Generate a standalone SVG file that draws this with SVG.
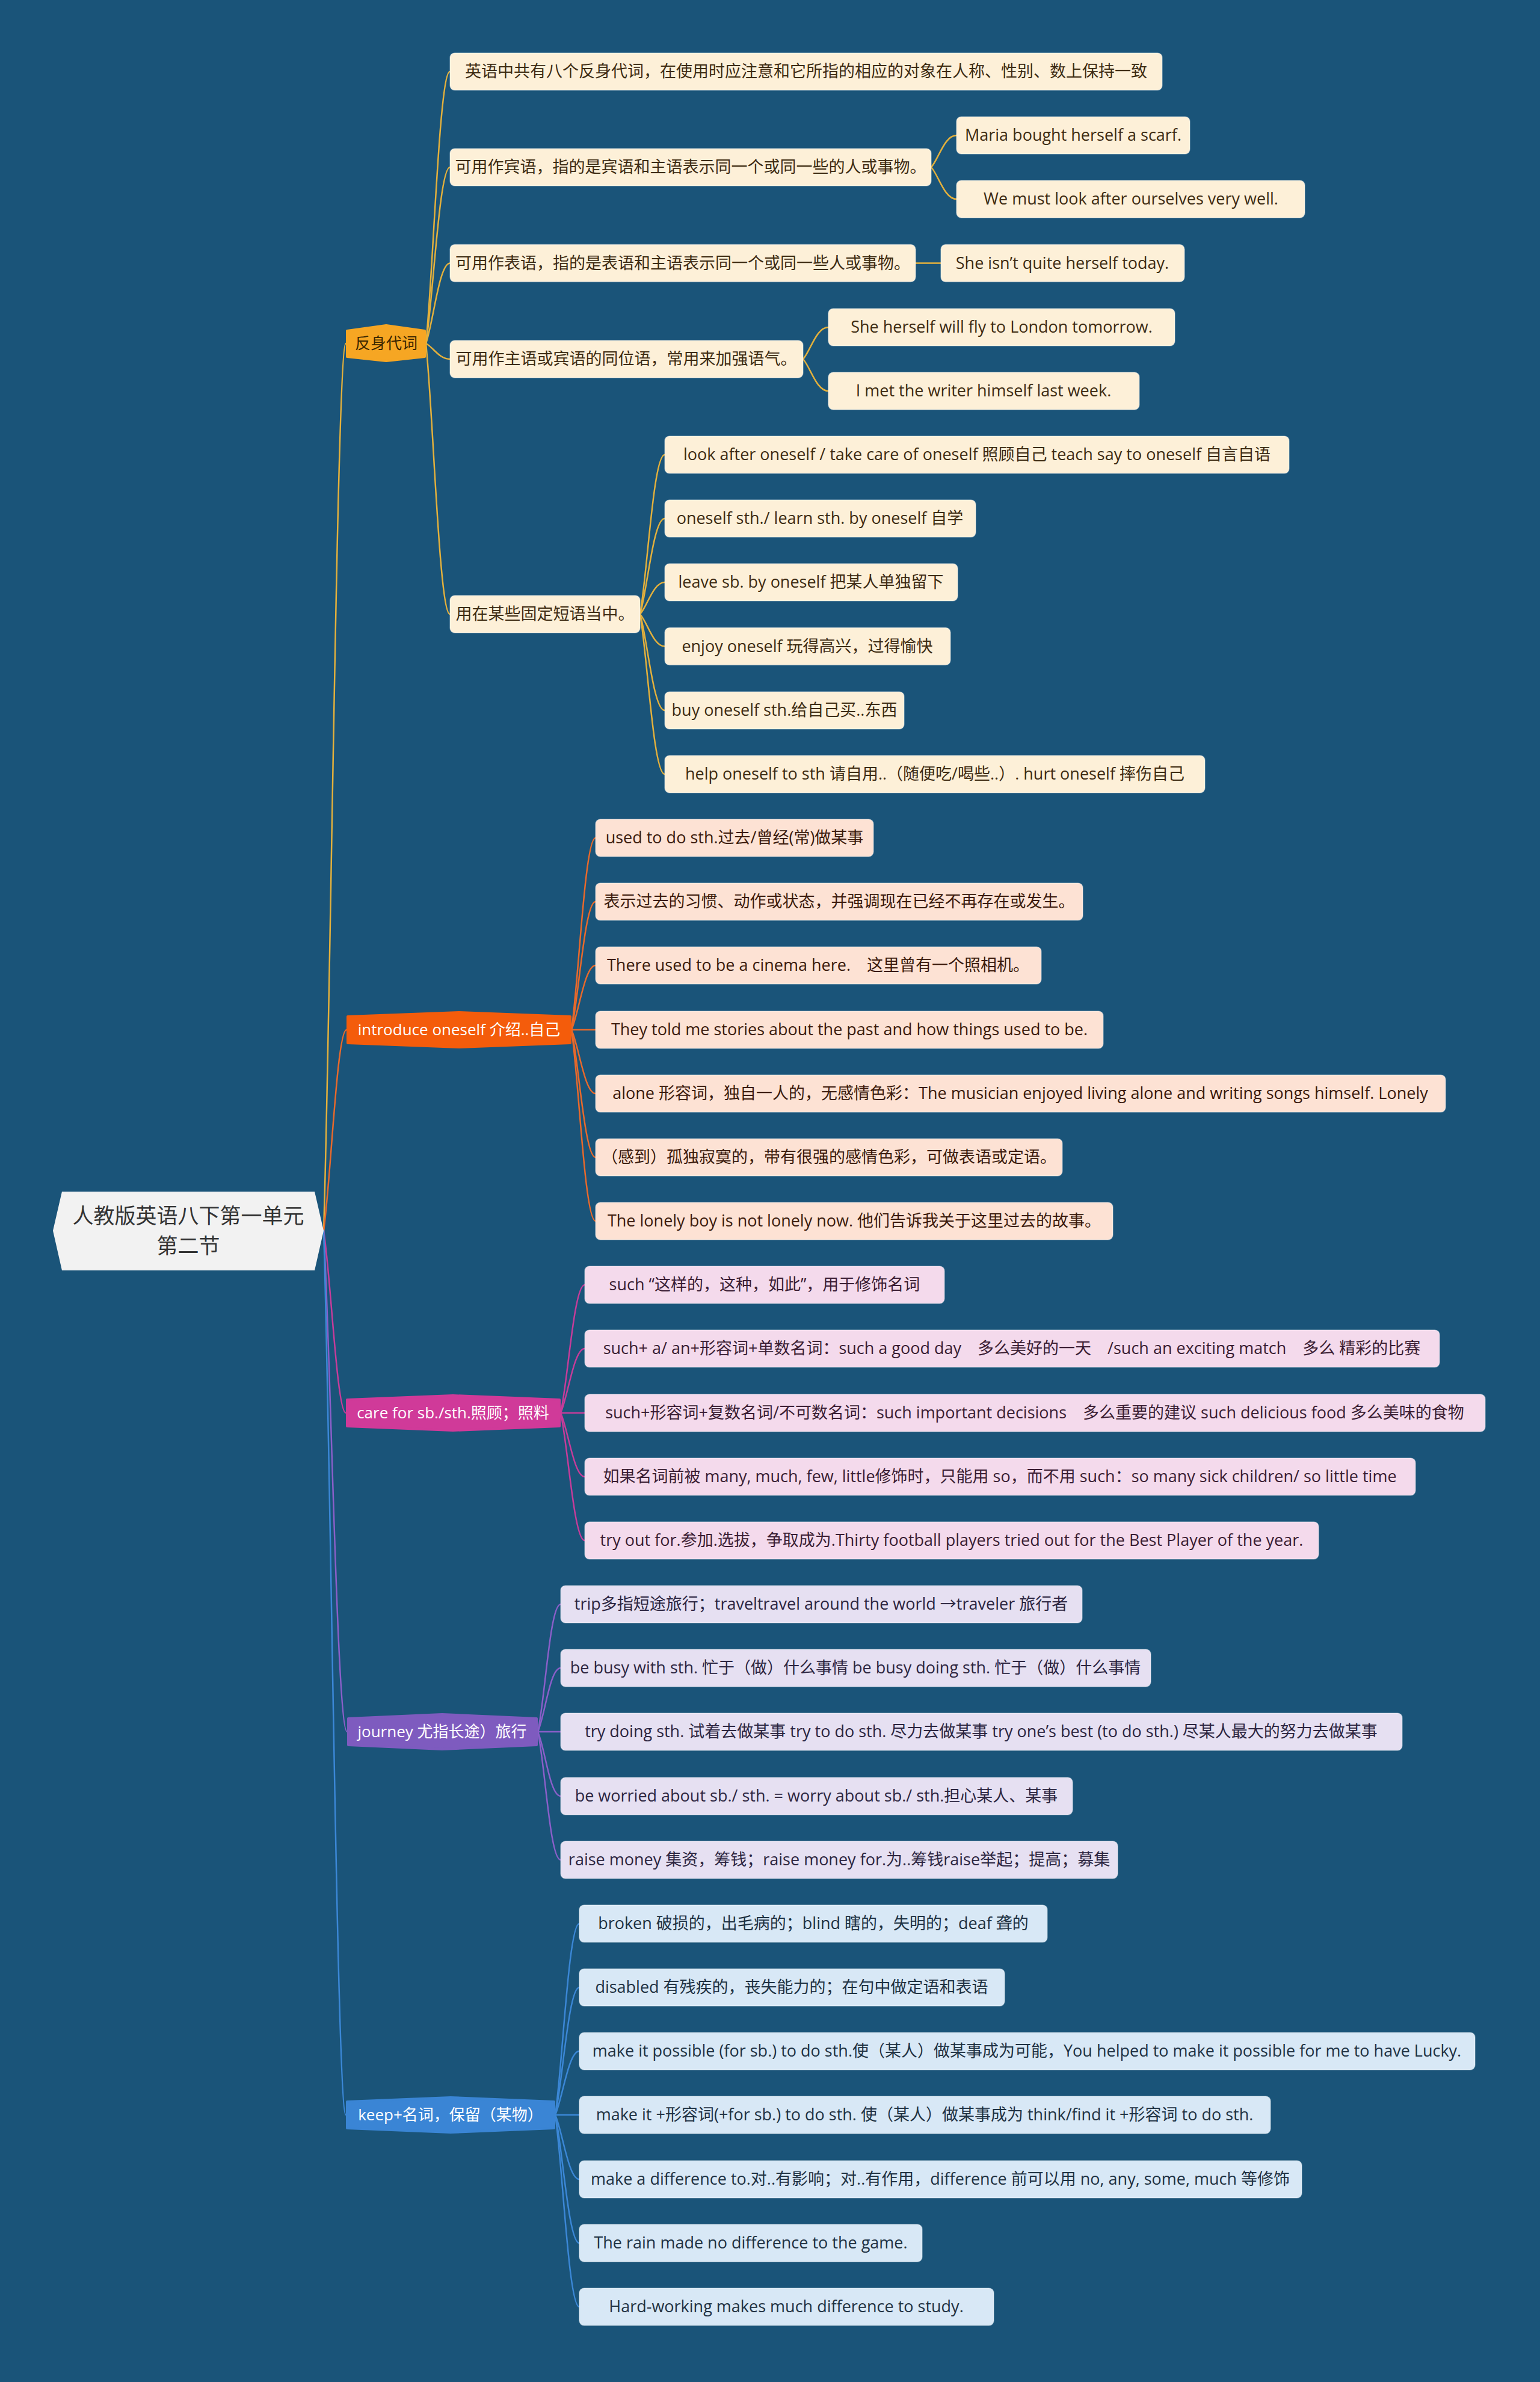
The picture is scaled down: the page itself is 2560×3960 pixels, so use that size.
<svg xmlns="http://www.w3.org/2000/svg" width="2560" height="3960" viewBox="0 0 2560 3960">
<style>
text{font-family:"Open Sans","Noto Sans CJK SC",sans-serif;font-size:26px;text-anchor:middle}
.box text{font-size:27px}
.c{fill:none;stroke-width:2.5;stroke-linecap:round}
.cy{stroke:#e3b03c}.co{stroke:#e8692b}.cm{stroke:#c63c9a}.cp{stroke:#8a5fc9}.cb{stroke:#3b87d6}
.hex{stroke-width:4;stroke-linejoin:round}
.by rect{fill:#fdf0d8}.by text{fill:#3d2b12}
.bo rect{fill:#fde2d4}.bo text{fill:#3b1a0c}
.bm rect{fill:#f4daec}.bm text{fill:#3a1d33}
.bp rect{fill:#e6e0f2}.bp text{fill:#2c2540}
.bb rect{fill:#d8e8f6}.bb text{fill:#1e3142}
.box rect{stroke:#ffffff;stroke-opacity:0.35;stroke-width:1.5}
</style>
<rect x="0" y="0" width="2560" height="3960" fill="#1a5479"/>
<g id="connectors">
<path class="c cy" d="M538 2046 C550 1677,560 571,575 571"/>
<path class="c co" d="M538 2046 C550 1962,560 1712,576 1712"/>
<path class="c cm" d="M538 2046 C550 2122,560 2349,575 2349"/>
<path class="c cp" d="M538 2046 C550 2254,560 2879,577 2879"/>
<path class="c cb" d="M538 2046 C550 2413,560 3516,575 3516"/>
<path class="c cy" d="M708 571 C720 458,730 119,748 119"/>
<path class="c cy" d="M708 571 C720 498,730 278,748 278"/>
<path class="c cy" d="M708 571 C720 538,730 437.5,748 437.5"/>
<path class="c cy" d="M708 571 C720 577,730 597,748 597"/>
<path class="c cy" d="M708 571 C720 684,730 1021,748 1021"/>
<path class="c cy" d="M1548 278 C1560 265,1570 225,1590 225"/>
<path class="c cy" d="M1548 278 C1560 291,1570 331,1590 331"/>
<path class="c cy" d="M1522 437.5 L1564 437.5"/>
<path class="c cy" d="M1335 597 C1347 584,1357 544,1377 544"/>
<path class="c cy" d="M1335 597 C1347 610,1357 650,1377 650"/>
<path class="c cy" d="M1064 1021 C1076 955,1086 756,1105 756"/>
<path class="c cy" d="M1064 1021 C1076 981,1086 862,1105 862"/>
<path class="c cy" d="M1064 1021 C1076 1008,1086 968,1105 968"/>
<path class="c cy" d="M1064 1021 C1076 1034,1086 1074.5,1105 1074.5"/>
<path class="c cy" d="M1064 1021 C1076 1061,1086 1181,1105 1181"/>
<path class="c cy" d="M1064 1021 C1076 1088,1086 1287,1105 1287"/>
<path class="c co" d="M950 1712 C962 1632,972 1393,990 1393"/>
<path class="c co" d="M950 1712 C962 1659,972 1499,990 1499"/>
<path class="c co" d="M950 1712 C962 1685,972 1605,990 1605"/>
<path class="c co" d="M950 1712 L990 1712"/>
<path class="c co" d="M950 1712 C962 1738,972 1818,990 1818"/>
<path class="c co" d="M950 1712 C962 1765,972 1924,990 1924"/>
<path class="c co" d="M950 1712 C962 1791,972 2030,990 2030"/>
<path class="c cm" d="M932 2349 C944 2296,954 2136,972 2136"/>
<path class="c cm" d="M932 2349 C944 2322,954 2242,972 2242"/>
<path class="c cm" d="M932 2349 L972 2349"/>
<path class="c cm" d="M932 2349 C944 2375,954 2455,972 2455"/>
<path class="c cm" d="M932 2349 C944 2402,954 2561,972 2561"/>
<path class="c cp" d="M894 2879 C906 2826,914 2667,932 2667"/>
<path class="c cp" d="M894 2879 C906 2852,914 2773,932 2773"/>
<path class="c cp" d="M894 2879 L932 2879"/>
<path class="c cp" d="M894 2879 C906 2906,914 2986,932 2986"/>
<path class="c cp" d="M894 2879 C906 2932,914 3092,932 3092"/>
<path class="c cb" d="M923 3516 C935 3436,945 3198,963 3198"/>
<path class="c cb" d="M923 3516 C935 3463,945 3304,963 3304"/>
<path class="c cb" d="M923 3516 C935 3489,945 3410,963 3410"/>
<path class="c cb" d="M923 3516 L963 3516"/>
<path class="c cb" d="M923 3516 C935 3543,945 3623,963 3623"/>
<path class="c cb" d="M923 3516 C935 3569,945 3729,963 3729"/>
<path class="c cb" d="M923 3516 C935 3596,945 3835,963 3835"/>
</g>
<g id="root">
<path d="M88 2046 L103 1981 L523 1981 L538 2046 L523 2112 L103 2112 Z" fill="#f2f2f2"/>
<text x="313" y="2034" fill="#333333" style="font-size:35px">人教版英语八下第一单元</text>
<text x="313" y="2084" fill="#333333" style="font-size:35px">第二节</text>
</g>
<g id="n-fanshen">
<path class="hex" d="M577 550 L642 541 L706 550 L706 593 L642 600 L577 593 Z" fill="#f6a623" stroke="#f6a623"/>
<text x="642" y="580" fill="#3a2600">反身代词</text>
</g>
<g id="n-introduce">
<path class="hex" d="M578 1690 L763 1683 L948 1690 L948 1734 L763 1741 L578 1734 Z" fill="#f45c0b" stroke="#f45c0b"/>
<text x="763" y="1721" fill="#ffffff">introduce oneself 介绍..自己</text>
</g>
<g id="n-care">
<path class="hex" d="M577 2327 L753 2320 L930 2327 L930 2371 L753 2378 L577 2371 Z" fill="#d03a99" stroke="#d03a99"/>
<text x="753" y="2358" fill="#ffffff">care for sb./sth.照顾；照料</text>
</g>
<g id="n-journey">
<path class="hex" d="M579 2857 L735 2850 L892 2857 L892 2901 L735 2908 L579 2901 Z" fill="#7e5bbf" stroke="#7e5bbf"/>
<text x="735" y="2888" fill="#ffffff">journey 尤指长途）旅行</text>
</g>
<g id="n-keep">
<path class="hex" d="M577 3494 L749 3487 L921 3494 L921 3538 L749 3545 L577 3538 Z" fill="#3a85d5" stroke="#3a85d5"/>
<text x="749" y="3525" fill="#ffffff">keep+名词，保留（某物）</text>
</g>
<g class="box by" id="n-r0"><rect x="748" y="88" width="1184" height="62" rx="8"/><text x="1340" y="128">英语中共有八个反身代词，在使用时应注意和它所指的相应的对象在人称、性别、数上保持一致</text></g>
<g class="box by" id="n-r1"><rect x="748" y="247" width="800" height="62" rx="8"/><text x="1148" y="287">可用作宾语，指的是宾语和主语表示同一个或同一些的人或事物。</text></g>
<g class="box by" id="n-r2"><rect x="748" y="406.5" width="774" height="62" rx="8"/><text x="1135" y="446.5">可用作表语，指的是表语和主语表示同一个或同一些人或事物。</text></g>
<g class="box by" id="n-r3"><rect x="748" y="566" width="587" height="62" rx="8"/><text x="1041" y="606">可用作主语或宾语的同位语，常用来加强语气。</text></g>
<g class="box by" id="n-r4"><rect x="748" y="990" width="316" height="62" rx="8"/><text x="906" y="1030">用在某些固定短语当中。</text></g>
<g class="box by" id="n-r1a"><rect x="1590" y="194" width="388" height="62" rx="8"/><text x="1784" y="234">Maria bought herself a scarf.</text></g>
<g class="box by" id="n-r1b"><rect x="1590" y="300" width="579" height="62" rx="8"/><text x="1880" y="340">We must look after ourselves very well.</text></g>
<g class="box by" id="n-r2a"><rect x="1564" y="406.5" width="405" height="62" rx="8"/><text x="1766" y="446.5">She isn’t quite herself today.</text></g>
<g class="box by" id="n-r3a"><rect x="1377" y="513" width="576" height="62" rx="8"/><text x="1665" y="553">She herself will fly to London tomorrow.</text></g>
<g class="box by" id="n-r3b"><rect x="1377" y="619" width="517" height="62" rx="8"/><text x="1635" y="659">I met the writer himself last week.</text></g>
<g class="box by" id="n-r4a"><rect x="1105" y="725" width="1038" height="62" rx="8"/><text x="1624" y="765">look after oneself / take care of oneself 照顾自己 teach say to oneself 自言自语</text></g>
<g class="box by" id="n-r4b"><rect x="1105" y="831" width="517" height="62" rx="8"/><text x="1363" y="871">oneself sth./ learn sth. by oneself 自学</text></g>
<g class="box by" id="n-r4c"><rect x="1105" y="937" width="487" height="62" rx="8"/><text x="1348" y="977">leave sb. by oneself 把某人单独留下</text></g>
<g class="box by" id="n-r4d"><rect x="1105" y="1043.5" width="475" height="62" rx="8"/><text x="1342" y="1083.5">enjoy oneself 玩得高兴，过得愉快</text></g>
<g class="box by" id="n-r4e"><rect x="1105" y="1150" width="398" height="62" rx="8"/><text x="1304" y="1190">buy oneself sth.给自己买..东西</text></g>
<g class="box by" id="n-r4f"><rect x="1105" y="1256" width="898" height="62" rx="8"/><text x="1554" y="1296">help oneself to sth 请自用..（随便吃/喝些..）. hurt oneself 摔伤自己</text></g>
<g class="box bo" id="n-i0"><rect x="990" y="1362" width="462" height="62" rx="8"/><text x="1221" y="1402">used to do sth.过去/曾经(常)做某事</text></g>
<g class="box bo" id="n-i1"><rect x="990" y="1468" width="810" height="62" rx="8"/><text x="1395" y="1508">表示过去的习惯、动作或状态，并强调现在已经不再存在或发生。</text></g>
<g class="box bo" id="n-i2"><rect x="990" y="1574" width="741" height="62" rx="8"/><text x="1360" y="1614">There used to be a cinema here.　这里曾有一个照相机。</text></g>
<g class="box bo" id="n-i3"><rect x="990" y="1681" width="844" height="62" rx="8"/><text x="1412" y="1721">They told me stories about the past and how things used to be.</text></g>
<g class="box bo" id="n-i4"><rect x="990" y="1787" width="1413" height="62" rx="8"/><text x="1696" y="1827">alone 形容词，独自一人的，无感情色彩：The musician enjoyed living alone and writing songs himself. Lonely</text></g>
<g class="box bo" id="n-i5"><rect x="990" y="1893" width="776" height="62" rx="8"/><text x="1378" y="1933">（感到）孤独寂寞的，带有很强的感情色彩，可做表语或定语。</text></g>
<g class="box bo" id="n-i6"><rect x="990" y="1999" width="860" height="62" rx="8"/><text x="1420" y="2039">The lonely boy is not lonely now. 他们告诉我关于这里过去的故事。</text></g>
<g class="box bm" id="n-c0"><rect x="972" y="2105" width="598" height="62" rx="8"/><text x="1271" y="2145">such “这样的，这种，如此”，用于修饰名词</text></g>
<g class="box bm" id="n-c1"><rect x="972" y="2211" width="1421" height="62" rx="8"/><text x="1682" y="2251">such+ a/ an+形容词+单数名词：such a good day　多么美好的一天　/such an exciting match　多么 精彩的比赛</text></g>
<g class="box bm" id="n-c2"><rect x="972" y="2318" width="1497" height="62" rx="8"/><text x="1720" y="2358">such+形容词+复数名词/不可数名词：such important decisions　多么重要的建议  such delicious food 多么美味的食物</text></g>
<g class="box bm" id="n-c3"><rect x="972" y="2424" width="1381" height="62" rx="8"/><text x="1662" y="2464">如果名词前被 many, much, few, little修饰时，只能用 so，而不用 such：so many sick children/ so little time</text></g>
<g class="box bm" id="n-c4"><rect x="972" y="2530" width="1220" height="62" rx="8"/><text x="1582" y="2570">try out for.参加.选拔，争取成为.Thirty football players tried out for the Best Player of the year.</text></g>
<g class="box bp" id="n-j0"><rect x="932" y="2636" width="867" height="62" rx="8"/><text x="1365" y="2676">trip多指短途旅行；traveltravel around the world →traveler 旅行者</text></g>
<g class="box bp" id="n-j1"><rect x="932" y="2742" width="981" height="62" rx="8"/><text x="1422" y="2782">be busy with sth. 忙于（做）什么事情 be busy doing sth. 忙于（做）什么事情</text></g>
<g class="box bp" id="n-j2"><rect x="932" y="2848" width="1399" height="62" rx="8"/><text x="1631" y="2888">try doing sth. 试着去做某事 try to do sth. 尽力去做某事 try one’s best (to do sth.) 尽某人最大的努力去做某事</text></g>
<g class="box bp" id="n-j3"><rect x="932" y="2955" width="851" height="62" rx="8"/><text x="1357" y="2995">be worried about sb./ sth. = worry about sb./ sth.担心某人、某事</text></g>
<g class="box bp" id="n-j4"><rect x="932" y="3061" width="926" height="62" rx="8"/><text x="1395" y="3101">raise money 集资，筹钱；raise money for.为..筹钱raise举起；提高；募集</text></g>
<g class="box bb" id="n-k0"><rect x="963" y="3167" width="778" height="62" rx="8"/><text x="1352" y="3207">broken 破损的，出毛病的；blind 瞎的，失明的；deaf 聋的</text></g>
<g class="box bb" id="n-k1"><rect x="963" y="3273" width="707" height="62" rx="8"/><text x="1316" y="3313">disabled 有残疾的，丧失能力的；在句中做定语和表语</text></g>
<g class="box bb" id="n-k2"><rect x="963" y="3379" width="1489" height="62" rx="8"/><text x="1707" y="3419">make it possible (for sb.) to do sth.使（某人）做某事成为可能，You helped to make it possible for me to have Lucky.</text></g>
<g class="box bb" id="n-k3"><rect x="963" y="3485" width="1149" height="62" rx="8"/><text x="1537" y="3525">make it +形容词(+for sb.) to do sth. 使（某人）做某事成为 think/find it +形容词 to do sth.</text></g>
<g class="box bb" id="n-k4"><rect x="963" y="3592" width="1201" height="62" rx="8"/><text x="1563" y="3632">make a difference to.对..有影响；对..有作用，difference 前可以用 no, any, some, much 等修饰</text></g>
<g class="box bb" id="n-k5"><rect x="963" y="3698" width="570" height="62" rx="8"/><text x="1248" y="3738">The rain made no difference to the game.</text></g>
<g class="box bb" id="n-k6"><rect x="963" y="3804" width="689" height="62" rx="8"/><text x="1307" y="3844">Hard-working makes much difference to study.</text></g>
</svg>
